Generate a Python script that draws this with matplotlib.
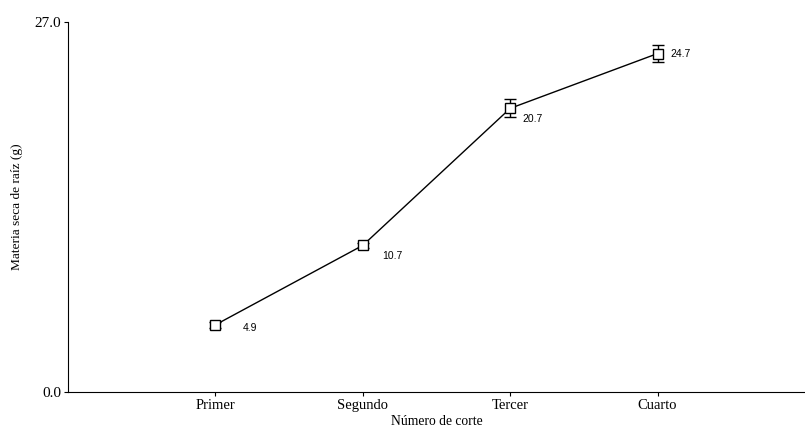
import matplotlib
matplotlib.use('Agg')
import matplotlib.pyplot as plt
import numpy as np

# datos
cortes = ['Primer', 'Segundo', 'Tercer', 'Cuarto']
materia_seca = [4.9, 10.7, 20.7, 24.7]
error_std = [0.2, 0.2, 0.65, 0.65]
etiquetas = ['4.9', '10.7', '20.7', '24.7']

# desplazamiento de cada etiqueta (puntos)
desplaz = [(20, -2), (14, -8), (9, -8), (9, 0)]

plt.rcParams['font.family'] = ['Liberation Serif', 'DejaVu Serif']

fig = plt.figure(figsize=(8.05, 4.3), dpi=100)
ax = fig.add_axes([0.0845, 0.0884, 0.9155, 0.8604])

x = np.arange(1, len(cortes) + 1)
ax.errorbar(x, materia_seca, yerr=error_std, color='black', linewidth=1,
            marker='s', markersize=7, markerfacecolor='white', markeredgecolor='black',
            markeredgewidth=1, capsize=4, elinewidth=1, capthick=1)

# etiquetas de valores
for xi, yi, txt, off in zip(x, materia_seca, etiquetas, desplaz):
    ax.annotate(txt, (xi, yi), xytext=off, textcoords='offset points',
                ha='left', va='center', fontsize=7.5, family='Liberation Sans')

ax.set_xlim(0, 5)
ax.set_ylim(0, 27)
ax.set_xticks(x)
ax.set_xticklabels(cortes, fontsize=10.5)
ax.set_yticks([0, 27])
ax.set_yticklabels(['0.0', '27.0'], fontsize=11)
ax.set_xlabel('Número de corte', fontsize=9.8, labelpad=2.5)
ax.set_ylabel('Materia seca de raíz (g)', fontsize=9.6, labelpad=8)
ax.spines['top'].set_visible(False)
ax.spines['right'].set_visible(False)
ax.tick_params(direction='out', length=3, width=0.8, pad=2)

plt.savefig('out.png', dpi=100)
